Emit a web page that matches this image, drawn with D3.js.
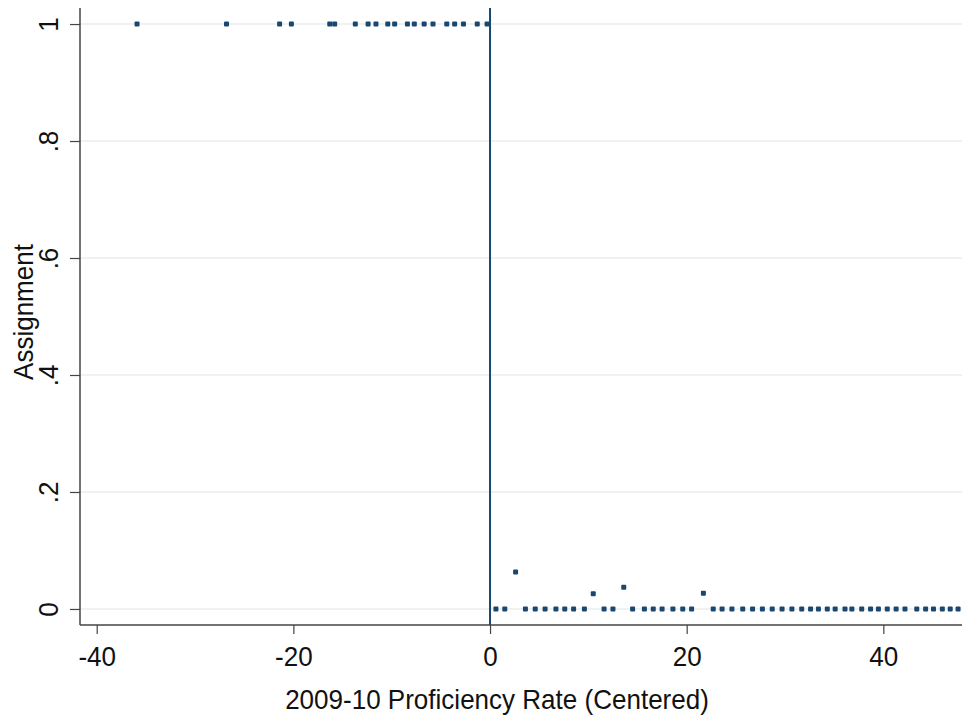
<!DOCTYPE html>
<html>
<head>
<meta charset="utf-8">
<script src="https://cdn.jsdelivr.net/npm/d3@7"></script>
<style>
  body { margin: 0; background: #fff; }
  text { font-family: "Liberation Sans", Arial, sans-serif; fill: #111; }
</style>
</head>
<body>
<svg id="chart" width="962" height="719"></svg>
<script>
// schools above the cutoff: all assigned
var xAbove = [-35.9, -26.8, -21.4, -20.2, -16.3, -15.8, -13.7, -12.4, -11.6, -10.4,
  -9.7, -8.4, -7.7, -6.7, -5.8, -4.4, -3.6, -2.7, -1.3, -0.3];
var yAbove = [1, 1, 1, 1, 1, 1, 1, 1, 1, 1, 1, 1, 1, 1, 1, 1, 1, 1, 1, 1];

// schools below the cutoff
var xBelow = [0.6, 1.5, 2.6, 3.6, 4.6, 5.6, 6.7, 7.6, 8.5, 9.6, 10.5, 11.6, 12.5, 13.6,
  14.5, 15.7, 16.6, 17.5, 18.6, 19.6, 20.5, 21.7, 22.7, 23.6, 24.6, 25.7, 26.7, 27.7,
  28.7, 29.7, 30.7, 31.7, 32.6, 33.4, 34.3, 35.1, 36.1, 36.8, 37.8, 38.7, 39.5, 40.4,
  41.3, 42.2, 43.4, 44.3, 45.1, 46.0, 46.8, 47.6];
var yBelow = [0, 0, 0.063, 0, 0, 0, 0, 0, 0, 0, 0.026, 0, 0, 0.037,
  0, 0, 0, 0, 0, 0, 0, 0.027, 0, 0, 0, 0, 0, 0,
  0, 0, 0, 0, 0, 0, 0, 0, 0, 0, 0, 0, 0, 0,
  0, 0, 0, 0, 0, 0, 0, 0];

var xTicks = [-40, -20, 0, 20, 40];
var yTicks = [0, 0.2, 0.4, 0.6, 0.8, 1];
var yTickLabels = ["0", ".2", ".4", ".6", ".8", "1"];
var cutoff = 0;

var navy = "#1a476f";
var axisCol = "#444";
var fs = 28, squeeze = "scale(0.93,1)";
var plotLeft = 80, plotTop = 8, plotRight = 962, plotBottom = 625;

var x = d3.scaleLinear().domain([-41.7, 48.0]).range([plotLeft, plotRight]);
var y = d3.scaleLinear().domain([-0.0274, 1.0274]).range([plotBottom, plotTop]);

var svg = d3.select("#chart");

// gridlines
svg.append("g")
  .selectAll("line")
  .data(yTicks)
  .enter().append("line")
    .attr("x1", plotLeft).attr("x2", plotRight)
    .attr("y1", function(d) { return y(d); })
    .attr("y2", function(d) { return y(d); })
    .attr("stroke", "#e8eeef")
    .attr("stroke-width", 1.5);

// cutoff line
svg.append("line")
  .attr("x1", x(cutoff)).attr("x2", x(cutoff))
  .attr("y1", plotTop).attr("y2", plotBottom)
  .attr("stroke", navy)
  .attr("stroke-width", 2);

// points
var pts = xAbove.map(function(v, i) { return {x: v, y: yAbove[i]}; })
  .concat(xBelow.map(function(v, i) { return {x: v, y: yBelow[i]}; }));

svg.append("g")
  .selectAll("rect")
  .data(pts)
  .enter().append("rect")
    .attr("x", function(d) { return x(d.x) - 2.5; })
    .attr("y", function(d) { return y(d.y) - 2.5; })
    .attr("width", 5)
    .attr("height", 5)
    .attr("rx", 1)
    .attr("fill", navy);

// y axis
var yAxis = svg.append("g")
  .attr("transform", "translate(" + plotLeft + ",0)")
  .call(d3.axisLeft(y).tickValues(yTicks).tickSize(10).tickFormat(function(d, i) { return yTickLabels[i]; }));
yAxis.select(".domain").attr("stroke", axisCol).attr("stroke-width", 1.5).attr("d", "M0," + plotTop + "V" + plotBottom);
yAxis.selectAll(".tick line").attr("stroke", axisCol).attr("stroke-width", 1.2);
yAxis.selectAll(".tick text")
  .attr("font-size", fs)
  .attr("x", null).attr("y", null).attr("dy", null)
  .attr("text-anchor", "middle")
  .attr("transform", "translate(-22,0) rotate(-90) " + squeeze);

// x axis
var xAxis = svg.append("g")
  .attr("transform", "translate(0," + plotBottom + ")")
  .call(d3.axisBottom(x).tickValues(xTicks).tickSize(9).tickFormat(function(d) { return String(d); }));
xAxis.select(".domain").attr("stroke", axisCol).attr("stroke-width", 1.5).attr("d", "M" + plotLeft + ",0H" + plotRight);
xAxis.selectAll(".tick line").attr("stroke", axisCol).attr("stroke-width", 1.2);
xAxis.selectAll(".tick text")
  .attr("font-size", fs)
  .attr("y", null).attr("dy", null)
  .attr("transform", "translate(0,41) " + squeeze);

// axis titles
svg.append("text")
  .attr("transform", "translate(33,312) rotate(-90) " + squeeze)
  .attr("text-anchor", "middle")
  .attr("font-size", fs)
  .text("Assignment");

svg.append("text")
  .attr("transform", "translate(497,709) " + squeeze)
  .attr("text-anchor", "middle")
  .attr("font-size", fs)
  .text("2009-10 Proficiency Rate (Centered)");
</script>
</body>
</html>
